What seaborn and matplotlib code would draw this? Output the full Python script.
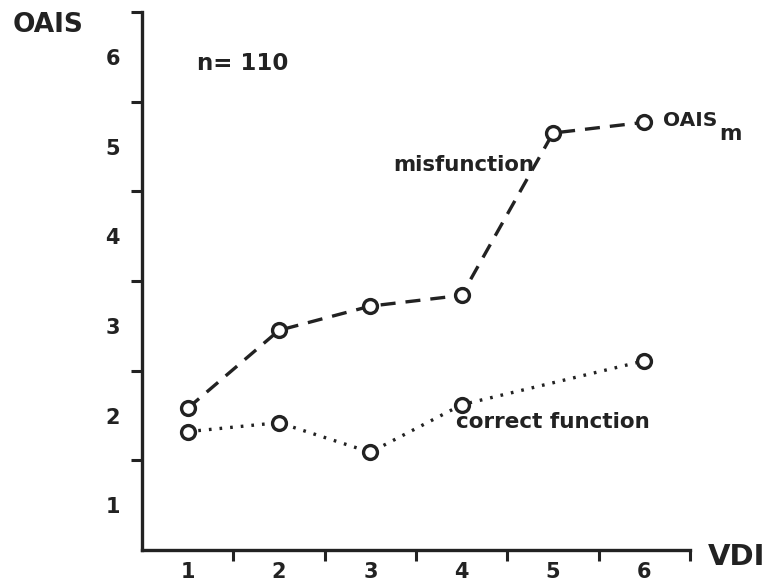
import matplotlib
matplotlib.use("Agg")
import matplotlib.pyplot as plt
import seaborn as sns
import pandas as pd
import numpy as np

# ---- data ----
vdi_mis = [1, 2, 3, 4, 5, 6]
oais_mis = [2.08, 2.95, 3.22, 3.34, 5.15, 5.27]
vdi_cor = [1, 2, 3, 4, 6]
oais_cor = [1.82, 1.92, 1.59, 2.12, 2.61]
x_tick_labels = ["1", "2", "3", "4", "5", "6"]
y_tick_labels = ["1", "2", "3", "4", "5", "6"]

sns.set_style("white")
plt.rcParams["font.family"] = ["DejaVu Sans"]
ink = "#222222"

df = pd.DataFrame({
    "VDI": vdi_mis + vdi_cor,
    "OAIS": oais_mis + oais_cor,
    "series": ["misfunction"] * len(vdi_mis) + ["correct function"] * len(vdi_cor),
})

fig = plt.figure(figsize=(7.67, 5.84), dpi=100)
W, H = 767, 584
ax = fig.add_axes([142 / W, (H - 550) / H, (690 - 142) / W, (550 - 12) / H])

sns.lineplot(
    data=df, x="VDI", y="OAIS", style="series",
    dashes={"misfunction": (4.5, 3.0), "correct function": (0.8, 2.4)},
    markers={"misfunction": "o", "correct function": "o"},
    color=ink, linewidth=2.4, markersize=10,
    markerfacecolor="white", markeredgecolor=ink, markeredgewidth=2.4,
    legend=False, ax=ax, clip_on=False,
)

ax.set_xlim(0.5, 6.5)
ax.set_ylim(0.5, 6.5)
ax.set_xticks(range(1, 7))
ax.set_xticklabels(x_tick_labels)
ax.set_yticks(range(1, 7))
ax.set_yticklabels(y_tick_labels)
ax.set_xticks(np.arange(1.5, 7.0, 1.0), minor=True)
ax.set_yticks(np.arange(1.5, 7.0, 1.0), minor=True)
ax.tick_params(axis="both", which="major", length=0, labelsize=15, labelcolor=ink)
ax.tick_params(axis="x", which="major", pad=9)
ax.tick_params(axis="y", which="major", pad=16)
ax.tick_params(axis="both", which="minor", direction="out", length=8, width=2.2,
               color=ink, bottom=True, left=True)
for lab in ax.get_xticklabels() + ax.get_yticklabels():
    lab.set_fontweight("bold")

for s in ["top", "right"]:
    ax.spines[s].set_visible(False)
for s in ["left", "bottom"]:
    ax.spines[s].set_linewidth(2.4)
    ax.spines[s].set_color(ink)
ax.set_xlabel("")
ax.set_ylabel("")
ax.grid(False)

def ftext(px, py, s, **kw):
    fig.text(px / W, 1 - py / H, s, color=ink, fontweight="bold", **kw)

ftext(13, 25, "OAIS", fontsize=19, ha="left", va="center")
ftext(197, 64, "n= 110", fontsize=16.5, ha="left", va="center")
ftext(393, 165, "misfunction", fontsize=15.3, ha="left", va="center")
ftext(663, 121, "OAIS", fontsize=14.5, ha="left", va="center")
ftext(719, 134, "m", fontsize=15.5, ha="left", va="center")
ftext(456, 422, "correct function", fontsize=15.5, ha="left", va="center")
ftext(708, 557, "VDI", fontsize=21, ha="left", va="center")

fig.savefig("out.png", dpi=100)
